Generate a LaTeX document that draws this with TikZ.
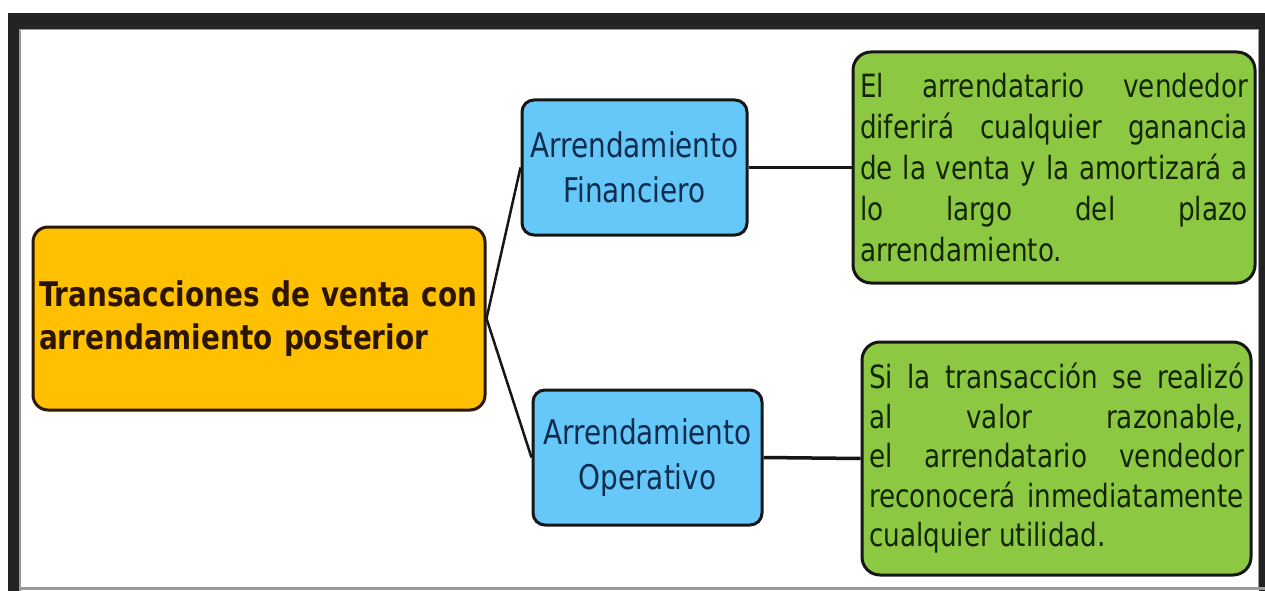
\documentclass[tikz,border=0pt]{standalone}
\usepackage{fontspec}
\newfontfamily\dfont[FakeStretch=0.82]{DejaVu Sans}
\definecolor{framedark}{HTML}{232323}
\definecolor{framegray}{HTML}{9A9A9A}
\definecolor{orangefill}{HTML}{FFC000}
\definecolor{orangetext}{HTML}{2B1500}
\definecolor{orangeline}{HTML}{2A1808}
\definecolor{bluefill}{HTML}{66C8F8}
\definecolor{bluetext}{HTML}{0E2C4E}
\definecolor{greenfill}{HTML}{8DC843}
\definecolor{greentext}{HTML}{142600}
\definecolor{boxline}{HTML}{161616}
\begin{document}
\begin{tikzpicture}[x=1pt,y=-1pt,
  box/.style={draw=boxline, line width=3pt, inner ysep=0pt, anchor=center},
  mainbox/.style={box, draw=orangeline, fill=orangefill, rounded corners=15pt,
    minimum width=452pt, minimum height=183pt, text width=440pt, inner xsep=6pt,
    align=left, text=orangetext, font=\dfont\bfseries\fontsize{34}{43}\selectfont},
  typebox/.style={box, fill=bluefill, rounded corners=12pt,
    minimum height=135pt, align=center, text=bluetext,
    font=\dfont\fontsize{34}{45}\selectfont},
  notebox/.style={box, fill=greenfill, rounded corners=18pt, inner xsep=7pt,
    align=justify, text=greentext},
  link/.style={draw=boxline, line width=2.5pt},
  hlink/.style={draw=boxline, line width=3.5pt}]
\useasboundingbox (0,0) rectangle (1265,591);
\fill[white] (0,0) rectangle (1265,591);
% frame
\fill[framedark] (8,13) rectangle (1265,29);
\fill[framedark] (8,13) rectangle (19,591);
\fill[framedark] (1259,13) rectangle (1265,591);
\fill[framegray] (19,29) rectangle (1259,30.5);
\fill[framegray] (19,29) rectangle (20.5,591);
\fill[framegray] (1257.5,29) rectangle (1259,588);
\fill[framegray] (19,587) rectangle (1265,590);
% nodes
\node[mainbox] (main) at (259,318.5) {Transacciones de venta con\\arrendamiento posterior};
\node[typebox, minimum width=225pt] (fin) at (634.5,167.5) {Arrendamiento\\Financiero};
\node[typebox, minimum width=229pt] (ope) at (647.5,457.5) {Arrendamiento\\Operativo};
\node[notebox, minimum width=402pt, minimum height=231pt, text width=388pt,
  font=\dfont\fontsize{32}{41}\selectfont] (finnote) at (1054,167.5)
  {\tolerance=10000\relax El arrendatario vendedor\linebreak \mbox{diferirá} cualquier ganancia\linebreak de la venta y la \mbox{amortizará} a\linebreak lo largo del plazo\linebreak \mbox{arrendamiento.}};
\node[notebox, minimum width=389pt, minimum height=233pt, text width=375pt,
  font=\dfont\fontsize{32}{39.5}\selectfont] (openote) at (1056.5,458.5)
  {\tolerance=10000\relax Si la \mbox{transacción} se \mbox{realizó}\linebreak al valor \mbox{razonable,}\linebreak el \mbox{arrendatario} \mbox{vendedor}\linebreak \mbox{reconocerá} \mbox{inmediatamente}\linebreak cualquier utilidad.};
% connectors
\draw[link] (main.east) -- (fin.west);
\draw[link] (main.east) -- (ope.west);
\draw[hlink] (fin.east) -- (finnote.west);
\draw[hlink] (ope.east) -- (openote.west);
\end{tikzpicture}
\end{document}
